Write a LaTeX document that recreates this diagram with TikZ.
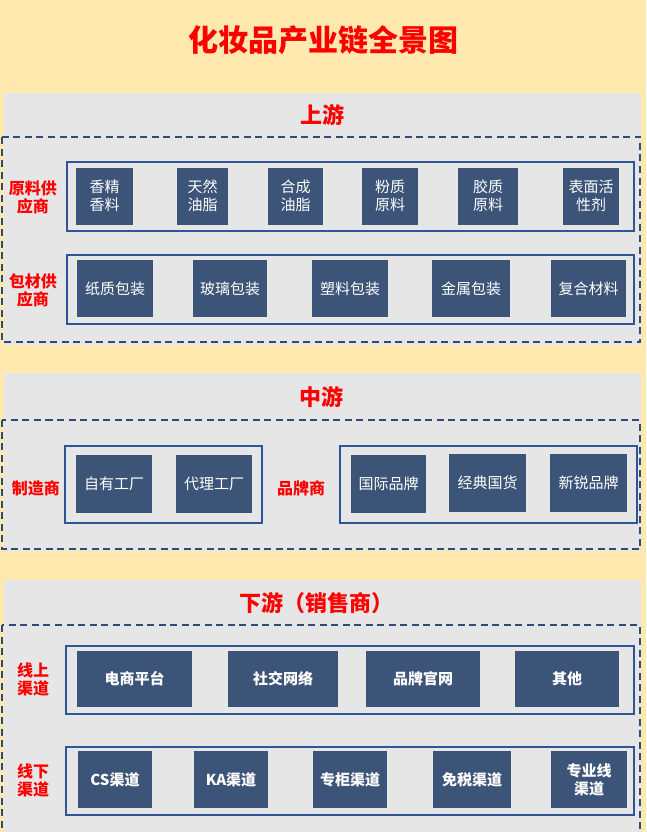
\documentclass[tikz,border=0pt]{standalone}
\usepackage{fontspec}
\setmainfont{Noto Sans CJK SC}
\usetikzlibrary{calc}
\definecolor{bgyellow}{HTML}{FFE9AF}
\definecolor{panelgray}{HTML}{E7E6E6}
\definecolor{boxblue}{HTML}{3B5478}
\definecolor{linkblue}{HTML}{2F5597}
\definecolor{dashblue}{HTML}{2E4A78}

\begin{document}
\begin{tikzpicture}[x=1pt,y=-1pt,
    panel/.style={fill=panelgray, draw=none},
    zone/.style={draw=dashblue, line width=1.6pt, dash pattern=on 7pt off 4.5pt},
    group/.style={draw=linkblue, line width=2pt},
    item/.style={fill=boxblue, text=white, inner sep=0pt, align=center,
                 font=\fontsize{15}{18}\selectfont, minimum height=57},
    bolditem/.style={item, font=\fontsize{15}{18}\selectfont\bfseries},
    tag/.style={text=red, align=center, font=\fontsize{16}{18}\selectfont\bfseries},
    heading/.style={text=red, font=\fontsize{22}{26}\selectfont\bfseries}]
    \clip (0,0) rectangle (646,832);
    \fill[bgyellow] (0,0) rectangle (646,832);

    \node[text=red, font=\fontsize{30}{34}\selectfont\bfseries] (title) at (323,40) {化妆品产业链全景图};

    % upstream
    \fill[panel] (4,93) rectangle (641,345);
    \node[heading] (up) at (322,115) {上游};
    \draw[zone] (2,137) rectangle (640,342);
    \draw[group] (67,162) rectangle (634,231);
    \draw[group] (67,255) rectangle (634,324);
    \node[tag] (raw) at (33,197) {原料供\\应商};
    \node[tag] (pack) at (33,290) {包材供\\应商};

    \node[item, minimum width=57] (r1) at (104.5,196) {香精\\香料};
    \node[item, minimum width=51] (r2) at (202.5,196) {天然\\油脂};
    \node[item, minimum width=55] (r3) at (295.5,196) {合成\\油脂};
    \node[item, minimum width=56] (r4) at (390,196) {粉质\\原料};
    \node[item, minimum width=60] (r5) at (488,196) {胶质\\原料};
    \node[item, minimum width=56] (r6) at (591,196) {表面活\\性剂};

    \node[item, minimum width=76] (p1) at (115,288.5) {纸质包装};
    \node[item, minimum width=74] (p2) at (230,288.5) {玻璃包装};
    \node[item, minimum width=76] (p3) at (350,288.5) {塑料包装};
    \node[item, minimum width=78] (p4) at (471,288.5) {金属包装};
    \node[item, minimum width=75] (p5) at (588.5,288.5) {复合材料};

    % midstream
    \fill[panel] (4,373) rectangle (641,551);
    \node[heading] (mid) at (321,397) {中游};
    \draw[zone] (2,420) rectangle (640,549);
    \draw[group] (65,446) rectangle (262,523);
    \draw[group] (340,446) rectangle (637,523);
    \node[tag] (maker) at (36,488) {制造商};
    \node[tag] (brand) at (301,488) {品牌商};

    \node[item, minimum width=76, minimum height=58] (m1) at (114,484) {自有工厂};
    \node[item, minimum width=76, minimum height=58] (m2) at (214,484) {代理工厂};
    \node[item, minimum width=75, minimum height=58] (b1) at (388.5,484) {国际品牌};
    \node[item, minimum width=77, minimum height=58] (b2) at (487.5,482.5) {经典国货};
    \node[item, minimum width=77, minimum height=58] (b3) at (588.5,483) {新锐品牌};

    % downstream
    \fill[panel] (4,580) rectangle (641,840);
    \node[heading] (down) at (316,603) {下游（销售商）};
    \draw[zone] (2,625) rectangle (640,845);
    \draw[group] (66,646) rectangle (634,714);
    \draw[group] (66,747) rectangle (634,815);
    \node[tag] (online) at (33,679) {线上\\渠道};
    \node[tag] (offline) at (33,780) {线下\\渠道};

    \node[bolditem, minimum width=115, minimum height=56] (o1) at (134.5,679) {电商平台};
    \node[bolditem, minimum width=110, minimum height=56] (o2) at (283,679) {社交网络};
    \node[bolditem, minimum width=114, minimum height=56] (o3) at (423,679) {品牌官网};
    \node[bolditem, minimum width=104, minimum height=56] (o4) at (567,679) {其他};

    \node[bolditem, minimum width=74] (s1) at (115,779.5) {CS渠道};
    \node[bolditem, minimum width=74] (s2) at (231,779.5) {KA渠道};
    \node[bolditem, minimum width=74] (s3) at (350,779.5) {专柜渠道};
    \node[bolditem, minimum width=78] (s4) at (472,779.5) {免税渠道};
    \node[bolditem, minimum width=76] (s5) at (589,779.5) {专业线\\渠道};
\end{tikzpicture}
\end{document}
